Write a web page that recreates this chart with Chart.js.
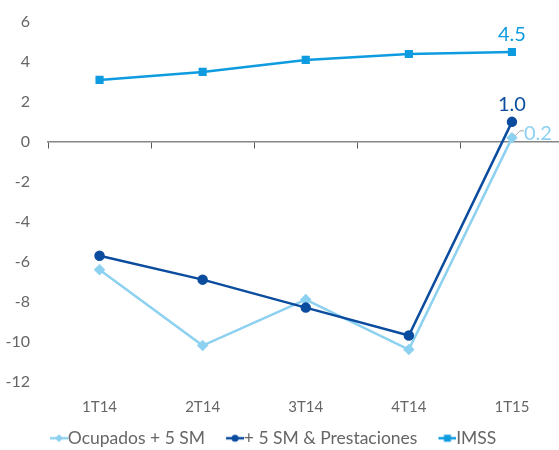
<!DOCTYPE html>
<html>
<head>
<meta charset="utf-8">
<script src="https://cdn.jsdelivr.net/npm/chart.js@4/dist/chart.umd.min.js"></script>
<style>
  html, body { margin: 0; padding: 0; background: #fff; overflow: hidden; }
  #contenedor { width: 570px; height: 450px; }
</style>
</head>
<body>
<div id="contenedor"><canvas id="grafico"></canvas></div>
<script>
// datos
const trimestres = ["1T14", "2T14", "3T14", "4T14", "1T15"];
const ocupados = [-6.4, -10.2, -7.9, -10.4, 0.2];
const prestaciones = [-5.7, -6.9, -8.3, -9.7, 1.0];
const imss = [3.1, 3.5, 4.1, 4.4, 4.5];
const nombres = ["Ocupados + 5 SM", "+ 5 SM & Prestaciones", "IMSS"];
const colores = ["#8dd1f1", "#0b4c9e", "#0e9be0"];
const marcadores = ["rectRot", "circle", "rect"];

const fuente = "Lato, 'Open Sans', sans-serif";
const gris = "#666666";

// icono de leyenda estilo Excel: línea con marcador al centro
function iconoLeyenda(color, estilo) {
  const c = document.createElement("canvas");
  c.width = 38;
  c.height = 12;
  const ctx = c.getContext("2d");
  ctx.strokeStyle = color;
  ctx.fillStyle = color;
  ctx.lineWidth = 2.5;
  ctx.beginPath();
  ctx.moveTo(20, 6);
  ctx.lineTo(38, 6);
  ctx.stroke();
  ctx.beginPath();
  if (estilo === "circle") ctx.arc(29, 6, 3.5, 0, Math.PI * 2);
  else if (estilo === "rect") ctx.rect(25.5, 2.5, 7, 7);
  else { ctx.moveTo(29, 2); ctx.lineTo(33, 6); ctx.lineTo(29, 10); ctx.lineTo(25, 6); ctx.closePath(); }
  ctx.fill();
  return c;
}

// etiquetas del último trimestre
const etiquetasFinales = {
  id: "etiquetasFinales",
  afterLayout(chart) {
    // la leyenda arranca un poco más a la derecha, como en el original
    chart.legend.left = 29;
  },
  afterDatasetsDraw(chart) {
    const ctx = chart.ctx;
    ctx.save();
    ctx.font = "20px " + fuente;
    ctx.textBaseline = "middle";

    const pImss = chart.getDatasetMeta(2).data[4];
    ctx.fillStyle = colores[2];
    ctx.textAlign = "center";
    ctx.fillText(imss[4].toFixed(1), pImss.x, pImss.y - 17);

    const pPrest = chart.getDatasetMeta(1).data[4];
    ctx.fillStyle = colores[1];
    ctx.fillText(prestaciones[4].toFixed(1), pPrest.x, pPrest.y - 17);

    const pOcup = chart.getDatasetMeta(0).data[4];
    ctx.strokeStyle = "#a6a6a6";
    ctx.lineWidth = 1;
    ctx.beginPath();
    ctx.moveTo(pOcup.x + 3, pOcup.y - 2);
    ctx.lineTo(pOcup.x + 8, pOcup.y - 7);
    ctx.lineTo(pOcup.x + 12, pOcup.y - 7);
    ctx.stroke();
    ctx.fillStyle = colores[0];
    ctx.textAlign = "left";
    ctx.fillText(ocupados[4].toFixed(1), pOcup.x + 12, pOcup.y - 4);
    ctx.restore();
  }
};

const series = [ocupados, prestaciones, imss];

new Chart(document.getElementById("grafico"), {
  type: "line",
  data: {
    labels: trimestres,
    datasets: series.map((datos, i) => ({
      label: nombres[i],
      data: datos,
      borderColor: colores[i],
      backgroundColor: colores[i],
      borderWidth: 2.5,
      pointStyle: marcadores[i],
      pointRadius: 4,
      pointHoverRadius: 4,
      xAxisID: "x",
      order: 3 - i,
      tension: 0
    }))
  },
  options: {
    responsive: true,
    maintainAspectRatio: false,
    animation: false,
    layout: { padding: { left: 0, right: 2, top: 22, bottom: -7 } },
    scales: {
      y: {
        min: -12,
        max: 6,
        afterFit: (escala) => {
          escala.width = 48;
          escala.paddingTop = 0;
          escala.paddingBottom = 0;
        },
        ticks: { stepSize: 2, padding: 18, color: gris, font: { family: fuente, size: 16 } },
        grid: { display: false, drawTicks: false },
        border: { display: false }
      },
      x: {
        type: "category",
        position: { y: 0 },
        offset: true,
        ticks: { display: false },
        grid: { offset: true, drawOnChartArea: false, drawTicks: true, tickLength: 6, color: "#595959" },
        border: { color: "#868686", width: 1.5 }
      },
      xEtiquetas: {
        type: "category",
        position: "bottom",
        offset: true,
        afterFit: (escala) => { escala.height = 38; },
        ticks: { padding: 17, color: gris, font: { family: fuente, size: 15 } },
        grid: { display: false, drawTicks: false },
        border: { display: false }
      }
    },
    plugins: {
      tooltip: { enabled: false },
      legend: {
        position: "bottom",
        align: "start",
        labels: {
          usePointStyle: true,
          pointStyleWidth: 20,
          padding: 10,
          color: gris,
          font: { family: fuente, size: 17.5 },
          generateLabels: () => nombres.map((nombre, i) => ({
            text: nombre,
            pointStyle: iconoLeyenda(colores[i], marcadores[i]),
            fillStyle: colores[i],
            strokeStyle: colores[i],
            lineWidth: 0,
            fontColor: gris,
            datasetIndex: i
          }))
        }
      }
    }
  },
  plugins: [etiquetasFinales]
});
</script>
</body>
</html>
